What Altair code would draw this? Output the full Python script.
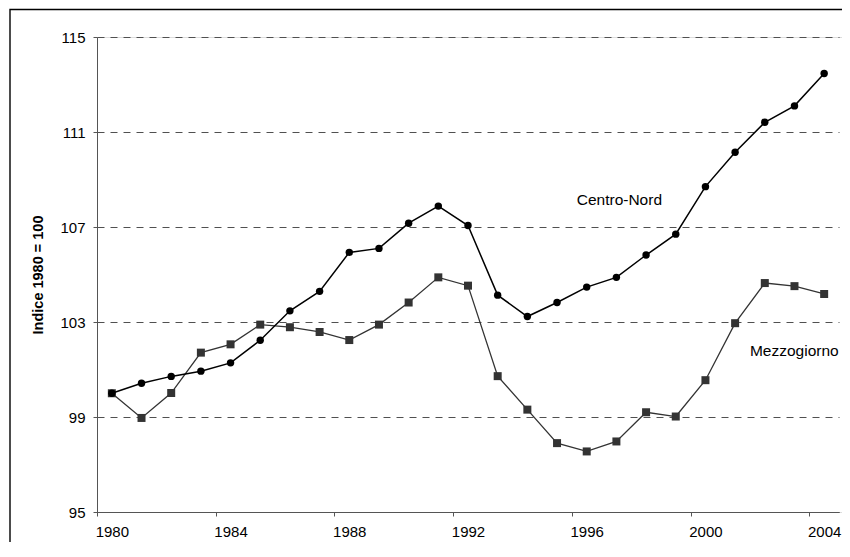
import altair as alt
import pandas as pd

years = list(range(1980, 2005))
centro_nord = [100.0, 100.42, 100.71, 100.93, 101.28, 102.23, 103.47, 104.29, 105.93, 106.10,
               107.16, 107.88, 107.06, 104.13, 103.23, 103.82, 104.47, 104.88, 105.82, 106.70,
               108.70, 110.15, 111.41, 112.10, 113.46]
mezzogiorno = [100.0, 98.96, 100.01, 101.71, 102.06, 102.89, 102.78, 102.58, 102.24, 102.89,
               103.82, 104.88, 104.53, 100.72, 99.31, 97.90, 97.55, 97.97, 99.20, 99.02,
               100.55, 102.95, 104.64, 104.51, 104.18]
y_ticks = [95, 99, 103, 107, 111, 115]
x_label_years = [1980, 1984, 1988, 1992, 1996, 2000, 2004]
series_labels = ["Centro-Nord", "Mezzogiorno"]
y_title = "Indice 1980 = 100"

PAD_L, PAD_T = 89, 29
W, H = 745, 475
RANGE_W = 742
FONT = "Liberation Sans"

df_cn = pd.DataFrame({"anno": years, "valore": centro_nord})
df_mz = pd.DataFrame({"anno": years, "valore": mezzogiorno})

x_scale = alt.Scale(domain=[1979.5, 2004.5], range=[0, RANGE_W], nice=False, zero=False)
y_scale = alt.Scale(domain=[95, 115], nice=False, zero=False)

x_axis = alt.Axis(
    values=[y - 0.5 for y in x_label_years],
    labelExpr="format(datum.value + 0.5, 'd')",
    labelOffset=RANGE_W / 25 / 2,
    labelFlush=False,
    grid=False,
    title=None,
    tickSize=4,
    tickColor="#555555",
    domainColor="#555555",
    labelPadding=8,
    labelFontSize=15,
    labelFont=FONT,
    labelColor="#000000",
)
y_axis = alt.Axis(
    values=y_ticks,
    grid=True,
    gridDash=[7, 6],
    gridColor="#505050",
    gridWidth=1,
    title=y_title,
    titleFont=FONT,
    titleFontSize=14.5,
    titleFontWeight="bold",
    titleColor="#000000",
    titlePadding=14,
    tickSize=4,
    tickColor="#555555",
    domainColor="#555555",
    labelPadding=8,
    labelFontSize=15,
    labelFont=FONT,
    labelColor="#000000",
)

X = alt.X("anno:Q", scale=x_scale, axis=x_axis)
Y = alt.Y("valore:Q", scale=y_scale, axis=y_axis)
Xs = alt.X("anno:Q", scale=x_scale)
Ys = alt.Y("valore:Q", scale=y_scale)

mz_line = alt.Chart(df_mz).mark_line(color="#333333", strokeWidth=1.3).encode(x=X, y=Y)
mz_pts = alt.Chart(df_mz).mark_point(shape="square", filled=True, size=64, color="#333333",
                                     opacity=1).encode(x=Xs, y=Ys)
cn_line = alt.Chart(df_cn).mark_line(color="#000000", strokeWidth=1.5).encode(x=Xs, y=Ys)
cn_pts = alt.Chart(df_cn).mark_point(shape="circle", filled=True, size=55, color="#000000",
                                     opacity=1).encode(x=Xs, y=Ys)

one = pd.DataFrame({"a": [0]})
lbl_cn = alt.Chart(one).mark_text(text=series_labels[0], font=FONT, fontSize=15.5, color="#000000",
                                  align="center", baseline="middle").encode(
    x=alt.datum(1997.1, scale=x_scale), y=alt.datum(108.12, scale=y_scale))
lbl_mz = alt.Chart(one).mark_text(text=series_labels[1], font=FONT, fontSize=15.5, color="#000000",
                                  align="left", baseline="middle", clip=False).encode(
    x=alt.datum(2001.5, scale=x_scale), y=alt.datum(101.78, scale=y_scale))

frame = alt.Chart(one).mark_rect(fill=None, stroke="#000000", strokeWidth=1.4, clip=False).encode(
    x=alt.value(10 - 8 - PAD_L), x2=alt.value(W + 40),
    y=alt.value(9.5 - 8 - PAD_T), y2=alt.value(H + 120))

chart = alt.layer(frame, mz_line, mz_pts, cn_line, cn_pts, lbl_cn, lbl_mz).properties(
    width=W, height=H,
    autosize=alt.AutoSizeParams(type="none"),
    padding={"left": PAD_L, "top": PAD_T, "right": 0, "bottom": 30},
).configure_view(stroke=None).configure(background="#ffffff")

chart.save("out.html", embed_options={"renderer": "svg", "actions": False})
